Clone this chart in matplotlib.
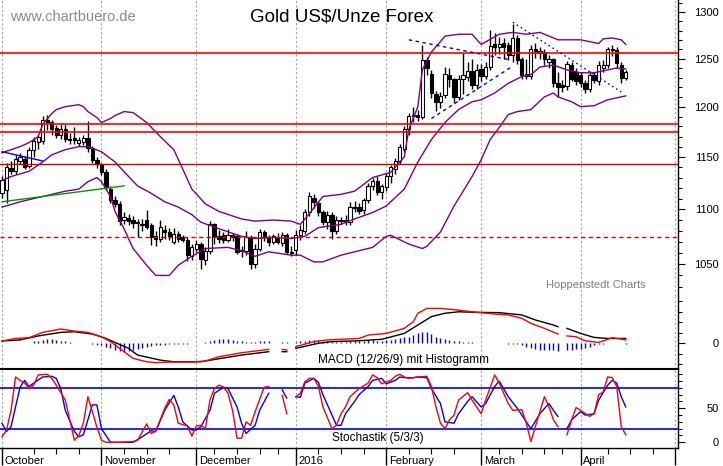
import numpy as np
import pandas as pd
import matplotlib
matplotlib.use('Agg')
import matplotlib.pyplot as plt
import matplotlib.transforms as mtransforms
from matplotlib.ticker import FixedLocator, NullFormatter, FuncFormatter

plt.rcParams['font.family'] = ['Liberation Sans', 'DejaVu Sans']

# trading days (holidays without a slot)
holidays = ['2015-12-25', '2016-01-01', '2016-03-25']
days = pd.bdate_range('2015-10-01', '2016-05-02')
days = days[~days.isin(pd.to_datetime(holidays))]

# daily candles Gold US$/oz, Oct 1 2015 .. Apr 15 2016
opens = [1115, 1118, 1139, 1136, 1146, 1148, 1141, 1157, 1165, 1166, 1187, 1184, 1178, 1172, 1177, 1168, 1169, 1164, 1165, 1169, 1159, 1147,
         1142, 1135, 1119, 1109, 1105, 1090, 1092, 1090, 1088, 1086, 1090, 1085, 1075, 1073, 1081, 1079, 1070, 1077, 1074, 1072, 1057,
         1064, 1068, 1054, 1062, 1086, 1075, 1076, 1072, 1076, 1075, 1062, 1062, 1074, 1050, 1064, 1079, 1074, 1070, 1074, 1069, 1076, 1061,
         1063, 1076, 1080, 1097, 1111, 1106, 1097, 1088, 1095, 1080, 1089, 1090, 1088, 1102, 1102, 1099, 1109, 1122, 1127, 1116,
         1121, 1131, 1138, 1146, 1158, 1177, 1191, 1192, 1190, 1248, 1234, 1213, 1205, 1212, 1233, 1228, 1210, 1229, 1231, 1237, 1222,
         1239, 1232, 1241, 1266, 1262, 1267, 1264, 1254, 1272, 1249, 1234, 1232, 1260, 1256, 1257, 1246, 1249, 1224, 1222, 1221, 1243, 1236,
         1233, 1224, 1218, 1233, 1226, 1240, 1243, 1260, 1259, 1243, 1230]
highs = [1131, 1144, 1146, 1152, 1154, 1151, 1160, 1170, 1172, 1191, 1192, 1187, 1181, 1182, 1182, 1173, 1179, 1170, 1172, 1185, 1161, 1150,
         1144, 1138, 1122, 1112, 1108, 1097, 1096, 1094, 1091, 1091, 1099, 1087, 1080, 1090, 1085, 1083, 1083, 1080, 1076, 1074, 1068,
         1072, 1070, 1065, 1089, 1087, 1081, 1079, 1082, 1078, 1077, 1066, 1080, 1076, 1068, 1082, 1081, 1076, 1077, 1078, 1079, 1078, 1066,
         1081, 1085, 1100, 1116, 1114, 1108, 1099, 1098, 1097, 1094, 1093, 1095, 1107, 1108, 1106, 1111, 1125, 1130, 1131, 1124,
         1134, 1142, 1149, 1163, 1180, 1194, 1200, 1197, 1264, 1252, 1238, 1216, 1215, 1241, 1240, 1230, 1233, 1256, 1246, 1249, 1244,
         1244, 1246, 1281, 1277, 1273, 1272, 1268, 1287, 1275, 1252, 1250, 1264, 1267, 1262, 1260, 1254, 1251, 1236, 1227, 1247, 1246, 1240,
         1236, 1227, 1237, 1236, 1247, 1248, 1262, 1264, 1262, 1246, 1238]
lows = [1111, 1106, 1133, 1133, 1143, 1138, 1139, 1150, 1158, 1163, 1176, 1172, 1169, 1168, 1165, 1163, 1163, 1161, 1162, 1155, 1144, 1139,
        1132, 1118, 1106, 1102, 1085, 1086, 1085, 1083, 1074, 1080, 1082, 1067, 1066, 1070, 1073, 1072, 1068, 1070, 1070, 1053, 1054,
        1061, 1046, 1049, 1059, 1068, 1069, 1069, 1070, 1071, 1059, 1056, 1058, 1046, 1047, 1062, 1071, 1066, 1068, 1068, 1066, 1059, 1057,
        1058, 1072, 1077, 1094, 1101, 1094, 1085, 1082, 1073, 1077, 1086, 1085, 1085, 1097, 1096, 1096, 1106, 1118, 1113, 1110,
        1117, 1125, 1133, 1143, 1155, 1172, 1184, 1185, 1188, 1233, 1209, 1196, 1199, 1209, 1220, 1204, 1207, 1213, 1226, 1218, 1218,
        1226, 1228, 1238, 1254, 1255, 1250, 1248, 1246, 1244, 1229, 1228, 1229, 1251, 1249, 1243, 1240, 1220, 1210, 1215, 1217, 1226, 1222,
        1220, 1214, 1215, 1224, 1222, 1236, 1240, 1253, 1240, 1224, 1227]
closes = [1128, 1140, 1136, 1148, 1150, 1140, 1157, 1166, 1170, 1187, 1184, 1177, 1172, 1177, 1168, 1167, 1167, 1167, 1169, 1159, 1147, 1143,
          1135, 1121, 1109, 1105, 1089, 1093, 1089, 1087, 1087, 1085, 1084, 1074, 1073, 1084, 1079, 1075, 1077, 1073, 1072, 1058, 1065,
          1068, 1055, 1062, 1086, 1074, 1073, 1072, 1076, 1074, 1061, 1063, 1074, 1050, 1064, 1079, 1074, 1070, 1075, 1070, 1076, 1061, 1060,
          1076, 1081, 1097, 1112, 1107, 1097, 1088, 1095, 1080, 1090, 1090, 1089, 1102, 1101, 1098, 1109, 1122, 1127, 1116, 1122,
          1131, 1140, 1146, 1160, 1177, 1191, 1192, 1190, 1248, 1240, 1214, 1205, 1211, 1234, 1229, 1210, 1229, 1233, 1237, 1222, 1238,
          1232, 1241, 1263, 1262, 1266, 1262, 1254, 1272, 1248, 1233, 1232, 1260, 1257, 1258, 1249, 1250, 1224, 1220, 1220, 1244, 1228, 1226,
          1224, 1218, 1233, 1227, 1243, 1243, 1260, 1259, 1245, 1230, 1236]

# Bollinger bands, read at selected days
bb_up_x = [0, 4, 6, 8, 9, 11, 12, 14, 17, 18, 19, 21, 22, 24, 25, 27, 29, 32, 35, 38, 40, 42, 45, 48, 53, 56, 60, 64, 66, 68, 71, 75,
           78, 82, 86, 89, 90, 92, 93, 95, 97, 98, 101, 104, 106, 110, 113, 116, 119, 121, 123, 128, 132, 133, 135, 137, 138]
bb_up = [1154, 1160, 1164, 1170, 1182, 1193, 1197, 1200, 1202, 1200, 1195, 1189, 1184, 1188, 1191, 1195, 1194, 1184, 1170, 1157, 1138,
         1119, 1105, 1098, 1091, 1089, 1090, 1089, 1086, 1096, 1112, 1114, 1117, 1130, 1135, 1150, 1177, 1200, 1238, 1257, 1268, 1274,
         1276, 1276, 1265, 1276, 1278, 1276, 1278, 1274, 1270, 1270, 1266, 1271, 1272, 1270, 1265]
bb_mid_x = [0, 2, 6, 9, 11, 14, 17, 19, 22, 25, 28, 30, 33, 36, 39, 42, 44, 48, 53, 56, 60, 64, 67, 70, 75, 78, 82, 85, 89, 92, 95,
            98, 101, 104, 106, 109, 112, 115, 117, 119, 122, 125, 128, 131, 134, 136, 138]
bb_mid = [1127, 1131, 1136, 1145, 1152, 1157, 1160, 1160, 1155, 1145, 1131, 1122, 1115, 1107, 1102, 1095, 1088, 1082, 1075, 1073, 1074,
          1073, 1075, 1083, 1086, 1091, 1097, 1103, 1119, 1145, 1167, 1184, 1197, 1205, 1207, 1214, 1224, 1231, 1233, 1241, 1243, 1238,
          1235, 1235, 1238, 1240, 1239]
bb_low_x = [0, 4, 9, 14, 17, 19, 21, 22, 24, 25, 27, 29, 32, 34, 37, 39, 42, 45, 50, 53, 56, 59, 64, 66, 69, 71, 75, 78, 82, 85, 86,
            90, 93, 94, 97, 100, 104, 106, 108, 110, 112, 114, 117, 120, 122, 123, 126, 128, 131, 134, 137, 138]
bb_low = [1102, 1107, 1112, 1117, 1119, 1126, 1130, 1126, 1112, 1098, 1082, 1064, 1049, 1040, 1040, 1049, 1057, 1064, 1065, 1062, 1057,
          1061, 1058, 1058, 1052, 1052, 1058, 1061, 1065, 1075, 1076, 1068, 1064, 1066, 1079, 1103, 1131, 1147, 1167, 1179, 1192, 1195,
          1197, 1210, 1214, 1210, 1205, 1200, 1201, 1207, 1210, 1211]

# resistance / support lines
red_levels = [1256, 1182, 1174]
dark_level = 1143.5
dashed_level = 1074

# trend lines (day index, price)
green_x, green_y = [0, 27], [1107, 1122]
blue_x, blue_y = [0, 9], [1155, 1146]
tri_up_x, tri_up_y = [90, 112], [1270, 1249]
tri_low_x, tri_low_y = [95, 113], [1188, 1242]
down_x, down_y = [113, 137], [1289, 1215]

# MACD (12/26/9)
macd_x = [0, 3, 6, 9, 13, 16, 19, 22, 24, 27, 29, 32, 34, 38, 42, 45, 48, 53, 59, 61, 62, 63, 64, 65, 69, 72, 79, 81, 85, 89, 91, 92,
          94, 97, 101, 104, 109, 112, 115, 117, 120, 123, 124, 125, 127, 129, 132, 134, 135, 138]
macd = [1.1, 2.3, 2.7, 5.2, 6.8, 5.8, 5.2, 3.1, 0.8, -4.0, -7.2, -8.8, -9.2, -8.9, -8.9, -8.4, -6.4, -4.5, -2.9, np.nan, -2.9, -3.2,
        np.nan, -1.6, 0.8, 1.6, 2.3, 3.9, 4.7, 7.1, 10.3, 14.3, 16.6, 16.6, 15.8, 15.0, 13.9, 13.5, 11.9, 9.5, 7.1, 4.4, np.nan, 3.5,
        3.1, 1.2, 0.4, 1.9, 2.7, 1.6]
signal_x = [0, 4, 8, 13, 16, 20, 23, 28, 30, 35, 38, 44, 47, 53, 59, 61, 62, 63, 64, 65, 70, 73, 79, 84, 89, 92, 95, 98, 101, 106,
            110, 115, 118, 122, 123, 124, 125, 128, 131, 134, 138]
signal = [1.1, 1.6, 3.5, 5.2, 5.5, 4.4, 2.3, -2.4, -5.6, -8.0, -8.8, -8.8, -7.7, -5.6, -4.0, np.nan, -4.0, -4.0, np.nan, -2.4, 0.0,
          0.8, 1.2, 1.9, 4.7, 8.7, 12.7, 14.3, 15.0, 14.7, 14.6, 13.5, 11.1, 8.7, 7.9, np.nan, 7.1, 4.7, 2.8, 2.3, 2.3]
hist = [0.3, 0.3, 0.3, 0.3, 0.3, 0.3, 0.3, 1.0, 1.3, 1.6, 1.9, 1.9, 1.6, 1.3, 1.0, 0.5, 0.3, 0.1, 0.2, 0.1, -0.3, -0.6,
        -1.0, -1.6, -2.4, -3.2, -3.8, -4.0, -3.6, -3.2, -2.8, -2.2, -1.6, -1.3, -1.0, -0.8, -0.6, -0.5, -0.4, -0.3, -0.3, -0.2, 0.1,
        0.1, 0.2, 0.5, 1.0, 1.5, 1.9, 1.9, 1.9, 1.7, 1.3, 1.0, 0.8, 0.8, 0.8, 1.0, 1.0, 1.0, np.nan, np.nan, 0.8, 0.8, np.nan,
        0.8, 1.0, 1.3, 1.6, 1.6, 1.5, 1.2, 1.0, 0.8, 0.7, 0.7, 0.8, 0.9, 1.0, 1.0, 1.2, 1.4, 1.4, 1.3, 1.3,
        1.4, 1.6, 2.0, 2.4, 2.8, 3.2, 4.0, 4.8, 5.5, 5.5, 4.4, 3.2, 2.4, 2.0, 1.6, 1.3, 1.0, 0.8, 0.6, 0.4, 0.2,
        0.1, 0.1, 0.1, 0.1, 0.1, 0.1, -0.2, -0.3, -0.5, -1.0, -1.6, -2.4, -2.8, -3.2, -3.2, -3.2, -3.4, -3.6, np.nan, -3.4, -3.2, -2.8,
        -2.6, -2.2, -1.6, -1.0, -0.4, -0.2, 0.1, 0.1, 0.2, 0.1, -0.1]

# Stochastik (5/3/3)
stk_x = [0, 1, 2, 3, 4, 5, 6, 7, 8, 10, 11, 12, 14, 15, 16, 17, 18, 19, 20, 21, 22, 23, 26, 29, 30, 32, 33, 34, 36, 37, 38, 39, 41,
         42, 43, 44, 45, 46, 47, 48, 49, 50, 51, 52, 53, 54, 55, 56, 58, 59, 61, 62, 63, 64, 65, 66, 67, 68, 69, 70, 71, 73, 74, 75,
         76, 77, 79, 81, 82, 83, 84, 86, 87, 88, 89, 90, 92, 94, 95, 96, 97, 98, 99, 100, 101, 103, 104, 106, 107, 109, 110, 112,
         113, 115, 116, 117, 118, 119, 120, 121, 122, 123, 124, 125, 126, 127, 128, 130, 131, 132, 133, 134, 135, 136, 137, 138]
stk_k = [8, 18, 47, 96, 91, 87, 79, 84, 99, 100, 94, 84, 62, 33, 3, 10, 28, 67, 45, 22, 3, 0, 0, 1, 3, 27, 13, 16, 50, 63, 55, 28,
         24, 9, 24, 25, 20, 62, 79, 84, 81, 72, 47, 6, 6, 30, 25, 45, 81, 82, np.nan, 69, 42, np.nan, 67, 72, 89, 94, 94, 82, 52, 20,
         25, 42, 52, 67, 79, 87, 99, 95, 86, 91, 97, 100, 96, 94, 96, 97, 82, 52, 28, 20, 33, 40, 62, 73, 62, 42, 62, 99, 87, 57,
         47, 48, 28, 1, 23, 45, 67, 52, 33, 23, np.nan, 11, 33, 51, 47, 38, 42, 70, 74, 96, 95, 82, 23, 11]
std_x = [0, 1, 2, 3, 4, 5, 6, 7, 9, 11, 12, 13, 14, 16, 17, 18, 19, 20, 21, 22, 24, 26, 29, 31, 33, 34, 36, 38, 39, 40, 42, 43, 44,
         46, 47, 49, 50, 52, 53, 54, 56, 57, 59, 61, 62, 63, 64, 65, 66, 67, 69, 70, 71, 73, 74, 75, 76, 78, 79, 81, 82, 84, 85, 87,
         88, 89, 91, 92, 94, 95, 97, 98, 100, 101, 103, 104, 106, 107, 109, 110, 112, 114, 115, 117, 119, 121, 122, 123, 124, 125,
         126, 128, 129, 131, 132, 134, 135, 136, 137, 138]
std_d = [28, 16, 23, 52, 81, 91, 82, 87, 96, 97, 94, 79, 47, 16, 8, 11, 33, 55, 55, 20, 0, 0, 0, 8, 17, 16, 47, 69, 52, 30, 18, 18,
         23, 47, 72, 81, 79, 52, 28, 13, 25, 47, 72, np.nan, 77, 65, np.nan, 67, 66, 87, 94, 88, 70, 40, 25, 25, 42, 60, 70, 82, 91,
         94, 86, 91, 96, 95, 95, 96, 95, 79, 57, 30, 28, 42, 60, 67, 52, 57, 82, 90, 67, 50, 40, 20, 42, 57, 47, 38, np.nan, 20,
         33, 45, 40, 42, 62, 84, 91, 87, 67, 52]

month_names = ['October', 'November', 'December', '2016', 'February', 'March', 'April', '']
month_idx = [int(np.flatnonzero(days >= pd.Timestamp(d))[0]) for d in
             ['2015-10-01', '2015-11-01', '2015-12-01', '2016-01-01', '2016-02-01', '2016-03-01', '2016-04-01', '2016-05-01']]
mondays = [i for i, d in enumerate(days) if d.weekday() == 0 and min(abs(i - m) for m in month_idx) > 3]

# ---- figure ----
fig = plt.figure(figsize=(7.23, 4.66), dpi=100)
W, H = 723, 466
right_px = 678
ax = fig.add_axes([0, 1 - 296 / H, right_px / W, 296 / H])
axm = fig.add_axes([0, 1 - 369 / H, right_px / W, 73 / H])
axs = fig.add_axes([0, 1 - 448 / H, right_px / W, 79 / H])

xlim = ((0 - 2) / 4.52, (right_px - 2) / 4.52)
grid_kw = dict(color='#a8a8a8', lw=0.8, linestyle=(0, (2, 2)), zorder=0)
for a in (ax, axm, axs):
    a.set_xlim(*xlim)
    for s in ('left', 'top', 'bottom'):
        a.spines[s].set_visible(False)
    a.spines['right'].set_linewidth(1.0)
    a.yaxis.tick_right()
    a.tick_params(axis='y', which='major', length=5, width=0.8, labelsize=8, pad=24.5)
    a.tick_params(axis='y', which='minor', length=2.8, width=0.8)
    a.set_xticks([])
    for m in month_idx:
        a.axvline(m, **grid_kw)

# candles
x = np.arange(len(closes))
o, h, l, c = map(np.array, (opens, highs, lows, closes))
ax.vlines(x, l, h, color='black', lw=1.0, zorder=2)
body_lo = np.minimum(o, c)
body_h = np.maximum(np.abs(c - o), 0.8)
colors = np.where(c >= o, 'white', 'black')
ax.bar(x, body_h, bottom=body_lo, width=0.72, color=colors, edgecolor='black', linewidth=0.8, zorder=2.5)

# bands
for bx, by in ((bb_up_x, bb_up), (bb_mid_x, bb_mid), (bb_low_x, bb_low)):
    ax.plot(bx, by, color='#800080', lw=1.0, zorder=3)

for lv in red_levels:
    ax.axhline(lv, color='#ff0000', lw=1.2, zorder=4)
ax.axhline(dark_level, color='#cc0000', lw=1.0, zorder=4)
ax.axhline(dashed_level, color='#dd0000', lw=1.0, linestyle=(0, (3, 2.5)), zorder=4)

ax.plot(green_x, green_y, color='#009900', lw=1.0, zorder=4)
ax.plot(blue_x, blue_y, color='#0000ff', lw=1.0, zorder=4)
ax.plot(tri_up_x, tri_up_y, color='#0000ff', lw=1.0, linestyle=(0, (2.5, 2.5)), zorder=4)
ax.plot(tri_low_x, tri_low_y, color='#0000ff', lw=1.0, linestyle=(0, (2.5, 2.5)), zorder=4)
ax.plot(down_x, down_y, color='#0000ff', lw=1.0, linestyle=(0, (1.2, 2.2)), zorder=4)

ax.set_yscale('log')
ax.set_ylim(1022, 1313.6)
ax.yaxis.set_major_locator(FixedLocator([1050, 1100, 1150, 1200, 1250, 1300]))
ax.yaxis.set_minor_locator(FixedLocator([v for v in range(1020, 1311, 10) if v % 50]))
ax.yaxis.set_major_formatter(FuncFormatter(lambda v, p: f'{v:.0f}'))
ax.yaxis.set_minor_formatter(NullFormatter())

ax.text(0.504, 0.943, 'Gold US$/Unze Forex', transform=ax.transAxes, ha='center', va='center', fontsize=13.5)
ax.text(0.0148, 0.943, 'www.chartbuero.de', transform=ax.transAxes, ha='left', va='center', fontsize=10.5, color='#8c8c8c')
ax.text(0.805, 0.037, 'Hoppenstedt Charts', transform=ax.transAxes, ha='left', va='center', fontsize=8, color='#808080')

# MACD panel
axm.vlines(np.arange(len(hist)), 0, hist, color='#0000ff', lw=1.0, zorder=2)
axm.plot(signal_x, signal, color='black', lw=1.0, zorder=3)
axm.plot(macd_x, macd, color='#ff0000', lw=1.0, zorder=3)
axm.set_ylim(-12.24, 22.52)
axm.set_yticks([0])
axm.yaxis.set_minor_locator(FixedLocator([-10, -5, 5, 10, 15, 20]))
axm.text(0.469, 0.123, 'MACD (12/26/9) mit Histogramm', transform=axm.transAxes, ha='left', va='center', fontsize=8.5)

# Stochastik panel
axs.axhline(80, color='#0000ff', lw=1.2, zorder=2)
axs.axhline(20, color='#0000ff', lw=1.2, zorder=2)
axs.plot(std_x, std_d, color='#0000ff', lw=1.0, zorder=3)
axs.plot(stk_x, stk_k, color='#ff0000', lw=1.0, zorder=3)
axs.set_ylim(-8.38, 107.75)
axs.set_yticks([0, 50])
axs.yaxis.set_minor_locator(FixedLocator([10, 20, 30, 40, 60, 70, 80, 90, 100]))
axs.spines['top'].set_visible(True)
axs.spines['top'].set_linewidth(1.5)
axs.spines['bottom'].set_visible(True)
axs.spines['bottom'].set_linewidth(1.0)
axs.text(0.49, 0.127, 'Stochastik (5/3/3)', transform=axs.transAxes, ha='left', va='center', fontsize=8.5)

axs.set_xticks(month_idx)
axs.set_xticks(mondays, minor=True)
axs.tick_params(axis='x', which='major', length=12, width=1.0, labelbottom=False)
axs.tick_params(axis='x', which='minor', length=4.3, width=0.8)
trans = mtransforms.blended_transform_factory(axs.transData, axs.transAxes)
for m, name in zip(month_idx, month_names):
    axs.text(m + 0.6, -0.165, name, transform=trans, ha='left', va='center', fontsize=8)

for a in (ax, axm, axs):
    for lab in a.get_yticklabels():
        lab.set_horizontalalignment('right')

fig.savefig('out.png', dpi=100)
